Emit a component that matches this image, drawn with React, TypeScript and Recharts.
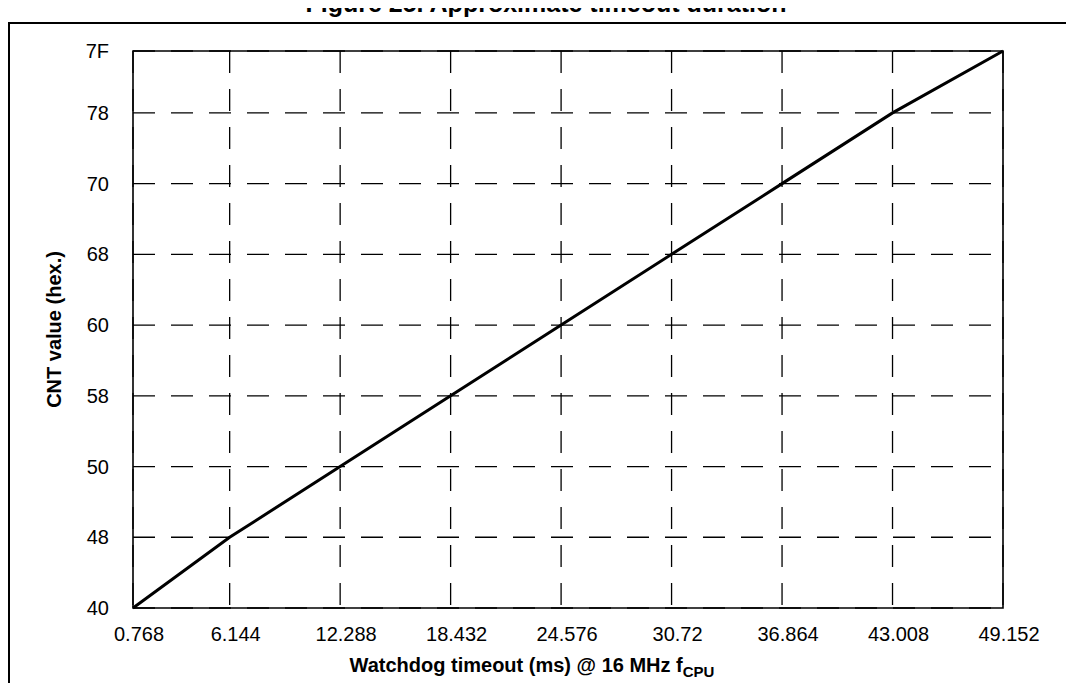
import React from "react";
import { LineChart, Line, XAxis, YAxis, CartesianGrid, ReferenceArea, Label } from "recharts";

// watchdog timeout (ms) at 16 MHz for each CNT step
const timeoutMs = [0.768, 6.144, 12.288, 18.432, 24.576, 30.72, 36.864, 43.008, 49.152];
// CNT value (hex) read at each grid line
const cntHex = ["40", "48", "50", "58", "60", "68", "70", "78", "7F"];

const cntValues = cntHex.map((h) => parseInt(h, 16));
const data = timeoutMs.map((t, i) => ({ t, cnt: cntValues[i] }));

const FONT = '"Liberation Sans", Arial, Helvetica, sans-serif';

const XTitle = (props: any) => {
    const { viewBox } = props;
    const cx = viewBox.x + viewBox.width / 2 - 36;
    const y = viewBox.y + viewBox.height + 34;
    return (
        <text x={cx} y={y} textAnchor="middle" fontSize={20} fontWeight="bold" fill="#000" fontFamily={FONT}>
            <tspan>Watchdog timeout (ms) @ 16 MHz f</tspan>
            <tspan fontSize={15} dy={5}>CPU</tspan>
        </text>
    );
};

const YTitle = (props: any) => {
    const { viewBox } = props;
    const cx = 54;
    const cy = viewBox.y + viewBox.height / 2;
    return (
        <text
            x={cx}
            y={cy}
            transform={`rotate(-90, ${cx}, ${cy})`}
            textAnchor="middle"
            dominantBaseline="central"
            fontSize={20}
            fontWeight="bold"
            fill="#000"
            fontFamily={FONT}
        >
            CNT value (hex.)
        </text>
    );
};

export default function App() {
    return (
        <div
            style={{
                position: "relative",
                width: 1074,
                height: 691,
                margin: -8,
                overflow: "hidden",
                background: "#fff",
                fontFamily: FONT,
            }}
        >
            <div
                style={{
                    position: "absolute",
                    left: 246,
                    width: 600,
                    top: -9,
                    fontSize: 25,
                    lineHeight: "25px",
                    fontWeight: "bold",
                    textAlign: "center",
                    color: "#000",
                }}
            >
                Figure 25. Approximate timeout duration
            </div>
            <div
                style={{
                    position: "absolute",
                    left: 8,
                    top: 22,
                    width: 1063,
                    height: 700,
                    border: "2px solid #000",
                    boxSizing: "border-box",
                }}
            />
            <div style={{ position: "absolute", left: 0, top: 0 }}>
                <LineChart width={1074} height={691} data={data} margin={{ top: 51, right: 71, bottom: 53, left: 73 }}>
                    <CartesianGrid stroke="#000" strokeWidth={1.3} strokeDasharray="22 16" />
                    <XAxis
                        dataKey="t"
                        type="number"
                        domain={[timeoutMs[0], timeoutMs[timeoutMs.length - 1]]}
                        ticks={timeoutMs}
                        interval={0}
                        height={30}
                        axisLine={false}
                        tickLine={false}
                        tickSize={0}
                        tickMargin={19}
                        tick={{ fill: "#000", fontSize: 20, dx: 6 }}
                    >
                        <Label content={<XTitle />} />
                    </XAxis>
                    <YAxis
                        type="number"
                        domain={[cntValues[0], cntValues[cntValues.length - 1]]}
                        ticks={cntValues}
                        interval={0}
                        width={60}
                        axisLine={false}
                        tickLine={false}
                        tickSize={0}
                        tickMargin={24}
                        tick={{ fill: "#000", fontSize: 20 }}
                        tickFormatter={(v: number) => v.toString(16).toUpperCase()}
                    >
                        <Label content={<YTitle />} />
                    </YAxis>
                    <ReferenceArea
                        x1={timeoutMs[0]}
                        x2={timeoutMs[timeoutMs.length - 1]}
                        y1={cntValues[0]}
                        y2={cntValues[cntValues.length - 1]}
                        fill="none"
                        fillOpacity={0}
                        stroke="#000"
                        strokeWidth={1.6}
                        strokeOpacity={1}
                    />
                    <Line
                        type="linear"
                        dataKey="cnt"
                        stroke="#000"
                        strokeWidth={3}
                        dot={false}
                        activeDot={false}
                        isAnimationActive={false}
                    />
                </LineChart>
            </div>
        </div>
    );
}
